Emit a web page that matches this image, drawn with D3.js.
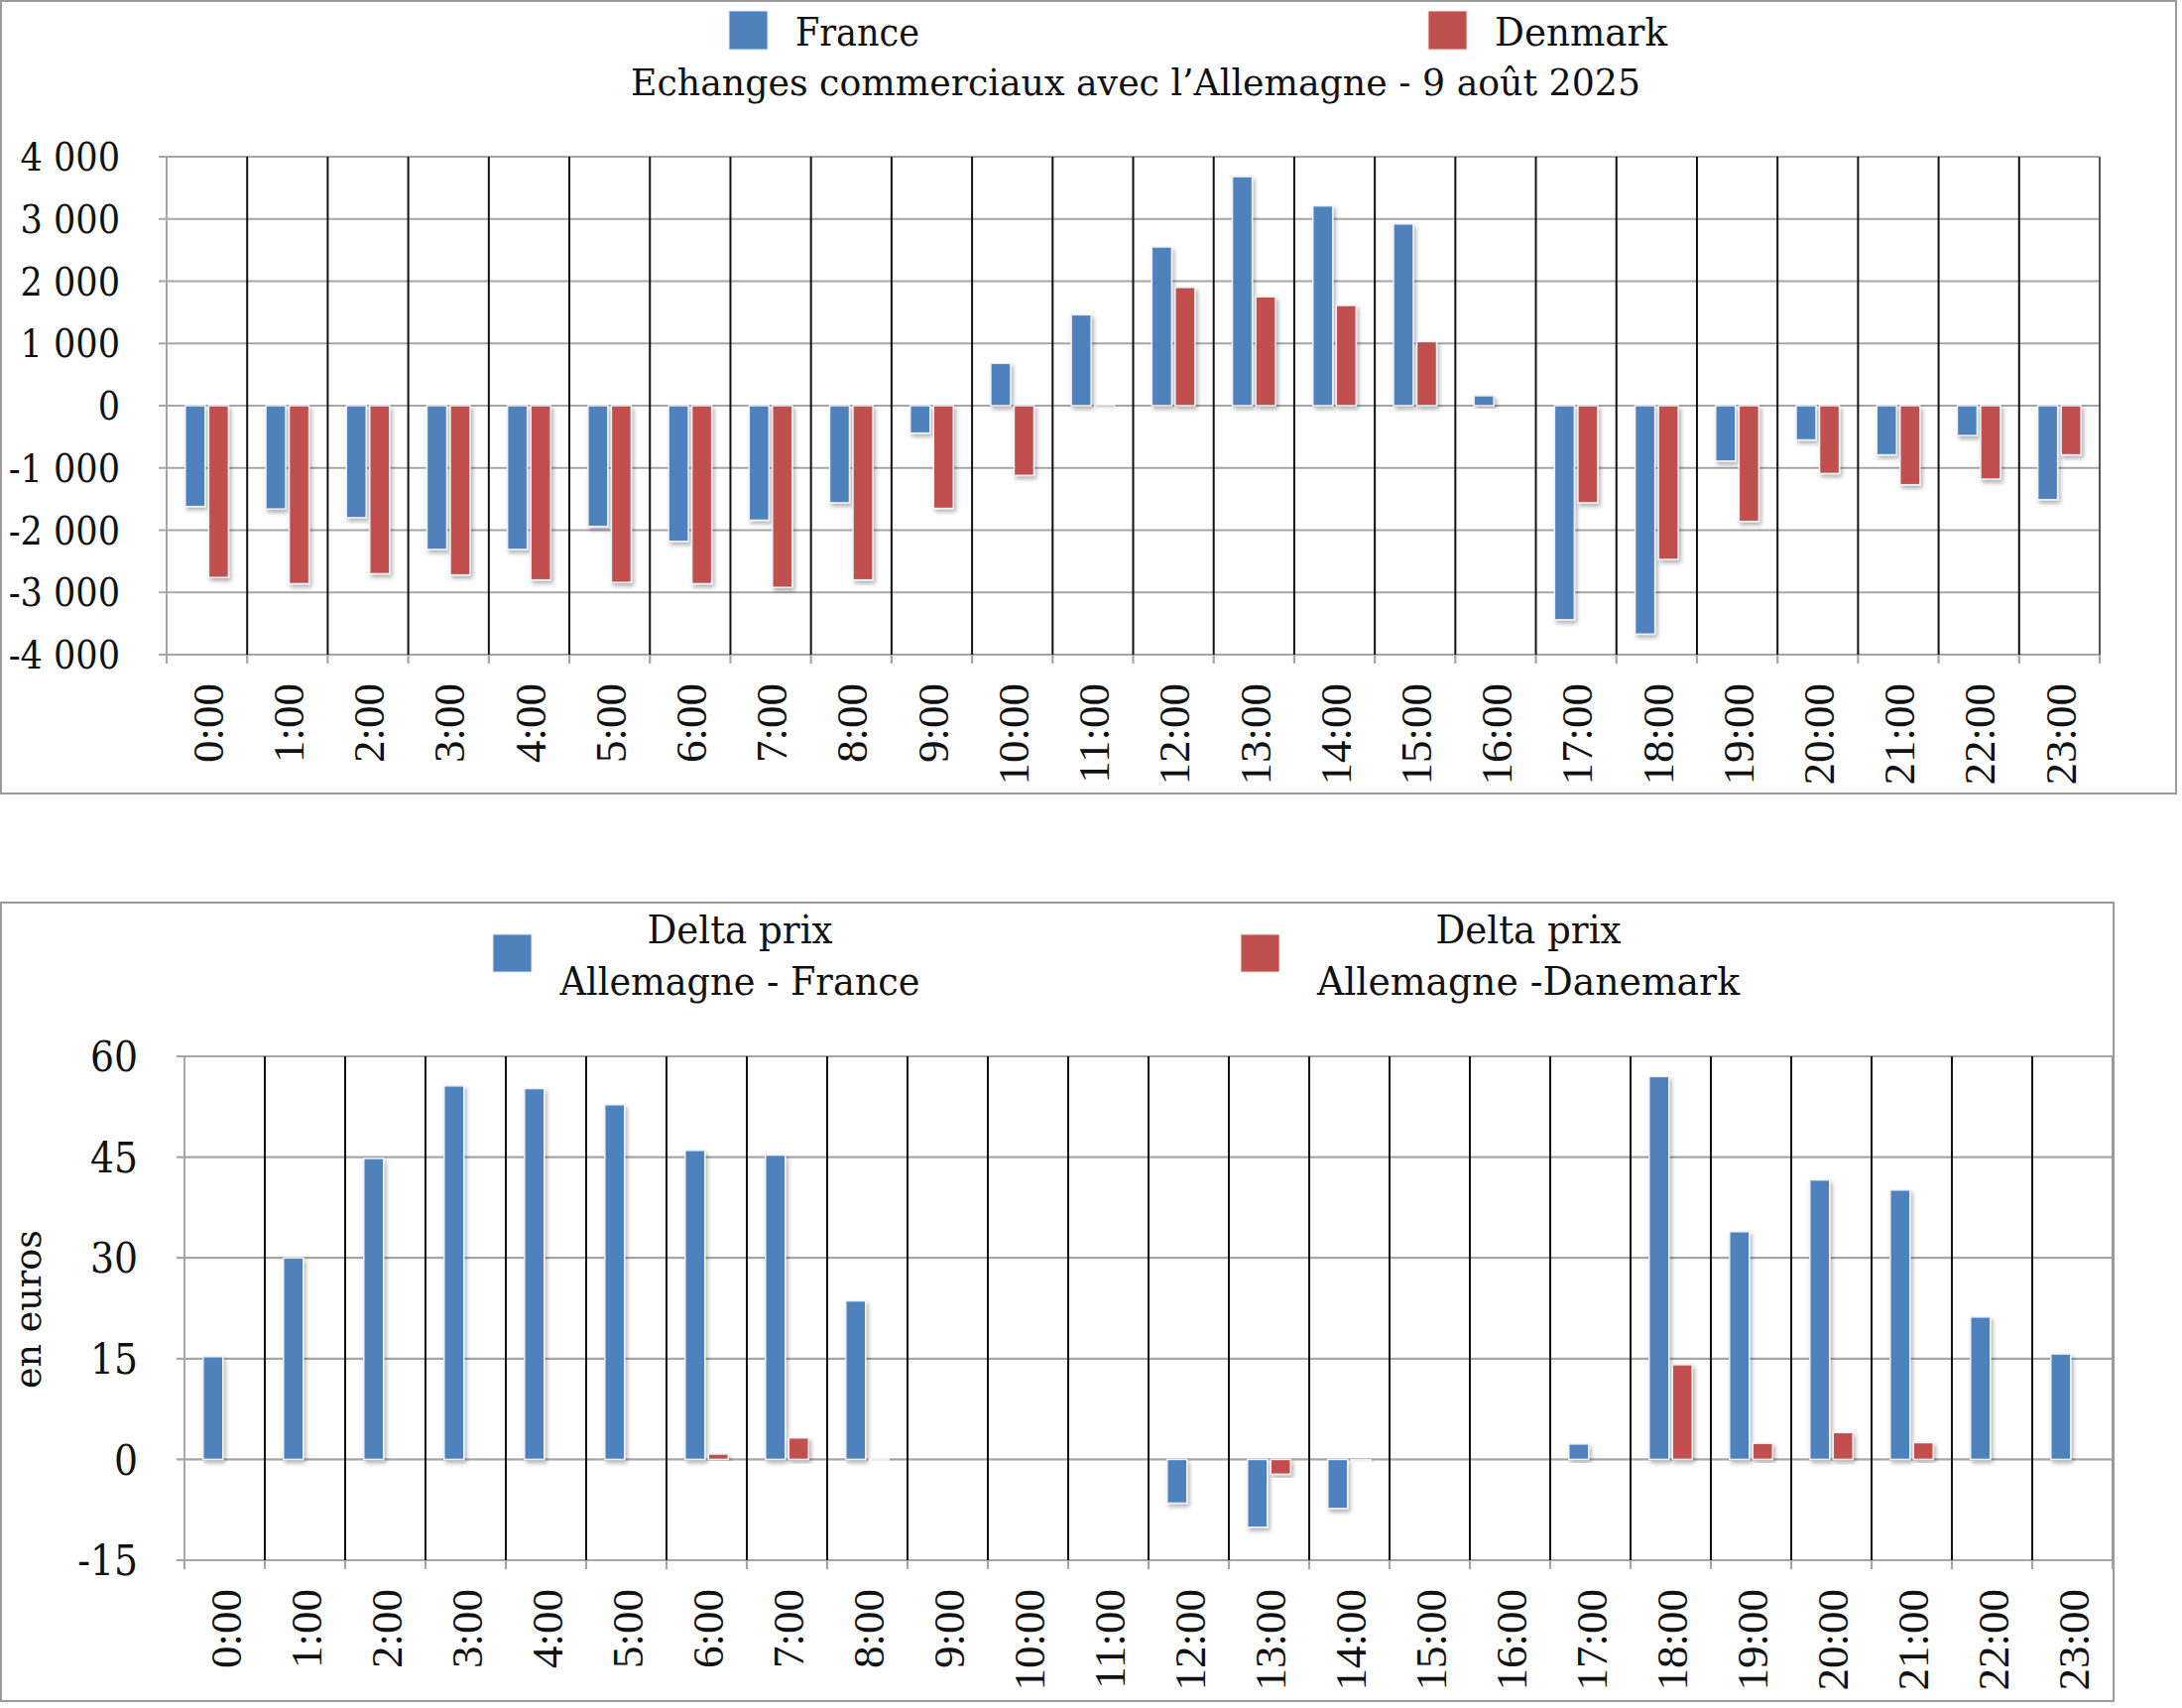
<!DOCTYPE html>
<html>
<head>
<meta charset="utf-8">
<script src="https://cdn.jsdelivr.net/npm/d3@7"></script>
<style>
  body { margin: 0; background: #fff; }
  svg text { font-family: "DejaVu Serif Condensed", "DejaVu Serif", serif; font-stretch: condensed; fill: #111; }
  svg text.xlab { font-family: "Liberation Serif", serif; font-stretch: normal; }
</style>
</head>
<body>
<div class="chart"></div>
<script>
// data
const hours = ['0:00','1:00','2:00','3:00','4:00','5:00','6:00','7:00','8:00','9:00','10:00','11:00',
               '12:00','13:00','14:00','15:00','16:00','17:00','18:00','19:00','20:00','21:00','22:00','23:00'];

// échanges commerciaux (MW)
const france  = [-1620,-1660,-1800,-2310,-2310,-1940,-2180,-1840,-1560,-440,680,1460,
                 2550,3680,3210,2920,160,-3440,-3670,-890,-550,-790,-480,-1510];
const denmark = [-2760,-2860,-2700,-2720,-2800,-2840,-2860,-2920,-2800,-1650,-1120,-30,
                 1900,1750,1610,1030,0,-1560,-2470,-1860,-1090,-1270,-1180,-790];
const topTicks = [-4000,-3000,-2000,-1000,0,1000,2000,3000,4000];

// delta prix (euros)
const deltaFrance  = [15.3,30.0,44.8,55.6,55.2,52.8,46.0,45.3,23.6,0,0,0,
                      -6.5,-10.1,-7.3,0,0,2.3,57.0,33.9,41.6,40.1,21.2,15.7];
const deltaDenmark = [0,0,0,0,0,0,0.8,3.2,0.1,0,0,0,
                      0,-2.2,-0.1,0,0,0,14.1,2.4,4.0,2.5,0,0];
const bottomTicks = [-15,0,15,30,45,60];

const blue = '#4f81bd';
const red = '#c0504d';

const locale = d3.formatLocale({decimal: ',', thousands: ' ', grouping: [3], currency: ['', ''], minus: '-'});
const fmt = locale.format(',d');

const svg = d3.select('.chart')
    .append('svg')
    .attr('width', 2200)
    .attr('height', 1722)

const defs = svg.append('defs')
defs.append('filter')
    .attr('id', 'shadow')
    .attr('x', '-30%').attr('y', '-10%').attr('width', '160%').attr('height', '130%')
    .append('feDropShadow')
    .attr('dx', 2).attr('dy', 3)
    .attr('stdDeviation', 2)
    .attr('flood-color', '#000')
    .attr('flood-opacity', 0.3)

function drawPanel(opt) {
    const g = svg.append('g')

    // frame
    g.append('rect')
        .attr('x', opt.frame[0]).attr('y', opt.frame[1])
        .attr('width', opt.frame[2]).attr('height', opt.frame[3])
        .attr('fill', 'none')
        .attr('stroke', '#9a9a9a')
        .attr('stroke-width', 2)

    const x = d3.scaleBand().domain(hours).range([opt.left, opt.right])
    const x1 = d3.scaleBand().domain([0, 1]).range([0, x.bandwidth()])
        .paddingInner(0.15).paddingOuter(0.8)
    const y = d3.scaleLinear().domain(opt.domain).range([opt.bottom, opt.top])

    // horizontal gridlines
    g.selectAll('.hgrid')
        .data(opt.ticks)
        .enter()
        .append('line')
        .attr('x1', opt.left - 8)
        .attr('x2', opt.right)
        .attr('y1', d => y(d))
        .attr('y2', d => y(d))
        .attr('stroke', '#a6a6a6')
        .attr('stroke-width', 2.2)

    // vertical category lines
    const bounds = d3.range(hours.length + 1)
    g.selectAll('.vgrid')
        .data(bounds)
        .enter()
        .append('line')
        .attr('x1', d => opt.left + d * x.step())
        .attr('x2', d => opt.left + d * x.step())
        .attr('y1', opt.top)
        .attr('y2', opt.bottom)
        .attr('stroke', d => (d === 0 || d === hours.length) ? opt.edgeColor[d === 0 ? 0 : 1] : '#111')
        .attr('stroke-width', 2)

    // bottom tick stubs in gray
    g.selectAll('.xtick')
        .data(bounds)
        .enter()
        .append('line')
        .attr('x1', d => opt.left + d * x.step())
        .attr('x2', d => opt.left + d * x.step())
        .attr('y1', opt.bottom)
        .attr('y2', opt.bottom + 9)
        .attr('stroke', '#a6a6a6')
        .attr('stroke-width', 2.2)

    // bars
    opt.series.forEach((s, si) => {
        g.selectAll('.bar' + si)
            .data(s.values)
            .enter()
            .append('rect')
            .attr('x', (d, i) => x(hours[i]) + x1(si))
            .attr('width', x1.bandwidth())
            .attr('y', d => Math.min(y(d), y(0)))
            .attr('height', d => Math.max(Math.abs(y(d) - y(0)), 1.5))
            .attr('fill', d => d === 0 ? 'none' : s.color)
            .attr('stroke', d => d === 0 ? 'none' : '#eef2f8')
            .attr('stroke-width', 1.5)
            .attr('filter', 'url(#shadow)')
    })

    // y tick labels
    g.selectAll('.ylab')
        .data(opt.ticks)
        .enter()
        .append('text')
        .attr('x', opt.ylabX)
        .attr('y', d => y(d))
        .attr('dy', '0.36em')
        .attr('text-anchor', 'end')
        .attr('font-size', opt.ylabSize)
        .text(d => opt.format(d))

    // x tick labels, rotated
    g.selectAll('.xlab')
        .data(hours)
        .enter()
        .append('text')
        .attr('class', 'xlab')
        .attr('transform', d => `translate(${x(d) + x.bandwidth() / 2},${opt.xlabY}) rotate(-90)`)
        .attr('dy', '0.36em')
        .attr('text-anchor', 'end')
        .attr('font-size', 45)
        .text(d => d)

    return g
}

// TOP PANEL: exchanges
const topPanel = drawPanel({
    frame: [1, 1, 2193, 799],
    left: 168, right: 2117, top: 158, bottom: 660,
    domain: [-4000, 4000], ticks: topTicks,
    series: [{values: france, color: blue}, {values: denmark, color: red}],
    ylabX: 121, ylabSize: 39, format: fmt,
    xlabY: 689,
    edgeColor: ['#a6a6a6', '#555']
})

topPanel.append('rect').attr('x', 735).attr('y', 11).attr('width', 39).attr('height', 39).attr('fill', blue)
    .attr('stroke', '#dfe6f0').attr('stroke-width', 1)
topPanel.append('text').attr('x', 802).attr('y', 46).attr('font-size', 39)
    .attr('textLength', 125).attr('lengthAdjust', 'spacingAndGlyphs').text('France')
topPanel.append('rect').attr('x', 1440).attr('y', 11).attr('width', 39).attr('height', 39).attr('fill', red)
    .attr('stroke', '#f0dfdf').attr('stroke-width', 1)
topPanel.append('text').attr('x', 1507).attr('y', 46).attr('font-size', 39)
    .attr('textLength', 174).attr('lengthAdjust', 'spacingAndGlyphs').text('Denmark')
topPanel.append('text').attr('x', 636).attr('y', 96).attr('font-size', 37)
    .attr('textLength', 1018).attr('lengthAdjust', 'spacingAndGlyphs')
    .text('Echanges commerciaux avec l\u2019Allemagne - 9 août 2025')

// BOTTOM PANEL: price deltas
const bottomPanel = drawPanel({
    frame: [1, 910, 2130, 805],
    left: 186, right: 2130, top: 1065, bottom: 1573,
    domain: [-15, 60], ticks: bottomTicks,
    series: [{values: deltaFrance, color: blue}, {values: deltaDenmark, color: red}],
    ylabX: 139, ylabSize: 42, format: d => d3.format('d')(d).replace('−', '-'),
    xlabY: 1602,
    edgeColor: ['#a6a6a6', '#9a9a9a']
})

bottomPanel.append('rect').attr('x', 497).attr('y', 942).attr('width', 39).attr('height', 38).attr('fill', blue)
    .attr('stroke', '#dfe6f0').attr('stroke-width', 1)
bottomPanel.append('text').attr('x', 746).attr('y', 951).attr('font-size', 40).attr('text-anchor', 'middle')
    .attr('textLength', 187).attr('lengthAdjust', 'spacingAndGlyphs').text('Delta prix')
bottomPanel.append('text').attr('x', 746).attr('y', 1003).attr('font-size', 40).attr('text-anchor', 'middle')
    .attr('textLength', 363).attr('lengthAdjust', 'spacingAndGlyphs').text('Allemagne - France')
bottomPanel.append('rect').attr('x', 1251).attr('y', 942).attr('width', 39).attr('height', 38).attr('fill', red)
    .attr('stroke', '#f0dfdf').attr('stroke-width', 1)
bottomPanel.append('text').attr('x', 1541).attr('y', 951).attr('font-size', 40).attr('text-anchor', 'middle')
    .attr('textLength', 187).attr('lengthAdjust', 'spacingAndGlyphs').text('Delta prix')
bottomPanel.append('text').attr('x', 1541).attr('y', 1003).attr('font-size', 40).attr('text-anchor', 'middle')
    .attr('textLength', 426).attr('lengthAdjust', 'spacingAndGlyphs').text('Allemagne -Danemark')

bottomPanel.append('text')
    .attr('transform', 'translate(28,1320) rotate(-90)')
    .attr('dy', '0.34em')
    .attr('text-anchor', 'middle')
    .attr('font-size', 37)
    .attr('textLength', 160).attr('lengthAdjust', 'spacingAndGlyphs')
    .text('en euros')
</script>
</body>
</html>
